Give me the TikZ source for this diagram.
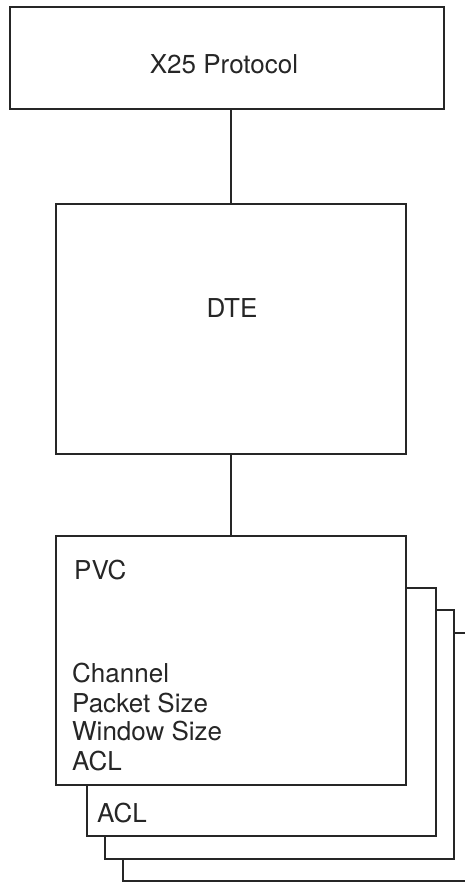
\documentclass[tikz,border=0pt]{standalone}
\usepackage{fontspec}
\setmainfont{TeX Gyre Heros}
\begin{document}
\begin{tikzpicture}[x=1pt,y=-1pt,
  box/.style={draw=black!85, line width=2pt, fill=white, inner sep=0pt},
  lbl/.style={inner sep=0pt, font=\fontsize{26}{30}\selectfont, text=black!85},
  wire/.style={draw=black!85, line width=2pt}]
\useasboundingbox (0,0) rectangle (465,882);
\clip (0,0) rectangle (465,882);
% stacked PVC boxes, back to front
\node[box, minimum width=349pt, minimum height=248pt] (pvcd) at (297.5,757) {};
\node[box, minimum width=349pt, minimum height=249pt] (pvcc) at (279.5,734.5) {};
\node[box, minimum width=349pt, minimum height=248pt] (pvcb) at (261.5,712) {};
\node[box, minimum width=350pt, minimum height=249pt] (pvc) at (231,660.5) {};
% upper boxes
\node[box, minimum width=434pt, minimum height=102pt] (x25) at (227,58) {};
\node[box, minimum width=350pt, minimum height=250pt] (dte) at (231,329) {};
% connectors
\draw[wire] (dte.north |- x25.south) -- (dte.north);
\draw[wire] (dte.south) -- (pvc.north);
% labels
\node[lbl, anchor=base] (tx25) at (224,74) {X25 Protocol};
\node[lbl, anchor=base] (tdte) at (232,317) {DTE};
\node[lbl, anchor=base west] (tpvc) at (74,579) {PVC};
\node[lbl, anchor=base west] (tch) at (72,682) {Channel};
\node[lbl, anchor=base west] (tps) at (72,712) {Packet Size};
\node[lbl, anchor=base west] (tws) at (72,740) {Window Size};
\node[lbl, anchor=base west] (tacl) at (72,770) {ACL};
\node[lbl, anchor=base west] (tacl2) at (97,822) {ACL};
\end{tikzpicture}
\end{document}
